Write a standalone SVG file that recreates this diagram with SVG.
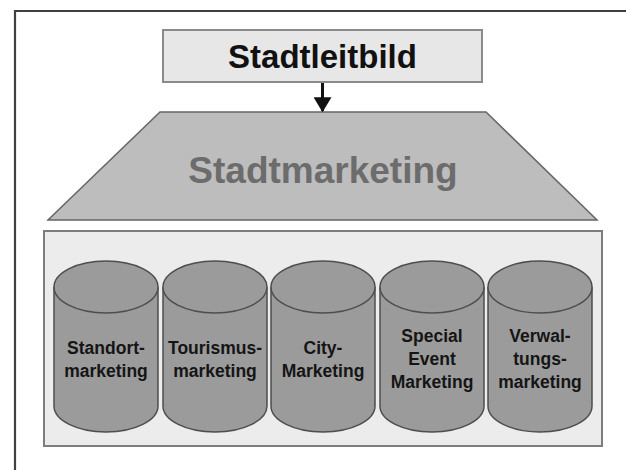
<svg xmlns="http://www.w3.org/2000/svg" width="626" height="470" viewBox="0 0 626 470">
<style>
.lbl{font-family:"Liberation Sans",Arial,sans-serif;font-weight:bold;text-anchor:middle}
.cyl{fill:#9b9b9b;stroke:#4e4e4e;stroke-width:1.5}
.ctext{font-size:17.5px;fill:#151515}
</style>
<defs>
<marker id="ah" markerWidth="5" markerHeight="6" refX="4.6" refY="3" orient="auto" markerUnits="strokeWidth" viewBox="0 0 5 6">
<path d="M0,0 L5,3 L0,6 Z" fill="#111"/>
</marker>
</defs>
<rect width="626" height="470" fill="#ffffff"/>
<path d="M15,470 V11 H626" fill="none" stroke="#404040" stroke-width="2.2"/>
<g id="stadtleitbild">
<rect x="163" y="30" width="319" height="52" fill="#e7e7e7" stroke="#8a8a8a" stroke-width="2"/>
<text class="lbl" x="322.5" y="68" font-size="33" fill="#111">Stadtleitbild</text>
</g>
<g id="stadtmarketing">
<polygon points="160,112 486,112 597,220 48,220" fill="#bdbdbd" stroke="#666" stroke-width="1.5"/>
<text class="lbl" x="323" y="183" font-size="37" fill="#6c6c6c">Stadtmarketing</text>
</g>
<g id="container">
<rect x="44" y="231" width="558" height="215" fill="#ececec" stroke="#7d7d7d" stroke-width="2"/>
</g>
<g id="standortmarketing">
<path class="cyl" d="M54,287 V406 A52,26 0 0 0 158,406 V287"/>
<ellipse class="cyl" cx="106" cy="287" rx="52" ry="26"/>
<text class="lbl ctext" x="106" y="354">Standort-</text>
<text class="lbl ctext" x="106" y="377">marketing</text>
</g>
<g id="tourismusmarketing">
<path class="cyl" d="M163,287 V406 A52,26 0 0 0 267,406 V287"/>
<ellipse class="cyl" cx="215" cy="287" rx="52" ry="26"/>
<text class="lbl ctext" x="215" y="354">Tourismus-</text>
<text class="lbl ctext" x="215" y="377">marketing</text>
</g>
<g id="citymarketing">
<path class="cyl" d="M271,287 V406 A52,26 0 0 0 375,406 V287"/>
<ellipse class="cyl" cx="323" cy="287" rx="52" ry="26"/>
<text class="lbl ctext" x="323" y="354">City-</text>
<text class="lbl ctext" x="323" y="377">Marketing</text>
</g>
<g id="specialeventmarketing">
<path class="cyl" d="M380,287 V406 A52,26 0 0 0 484,406 V287"/>
<ellipse class="cyl" cx="432" cy="287" rx="52" ry="26"/>
<text class="lbl ctext" x="432" y="342">Special</text>
<text class="lbl ctext" x="432" y="365">Event</text>
<text class="lbl ctext" x="432" y="388">Marketing</text>
</g>
<g id="verwaltungsmarketing">
<path class="cyl" d="M488,287 V406 A52,26 0 0 0 592,406 V287"/>
<ellipse class="cyl" cx="540" cy="287" rx="52" ry="26"/>
<text class="lbl ctext" x="540" y="342">Verwal-</text>
<text class="lbl ctext" x="540" y="365">tungs-</text>
<text class="lbl ctext" x="540" y="388">marketing</text>
</g>
<g id="connectors">
<line x1="322.5" y1="83" x2="322.5" y2="111" stroke="#111" stroke-width="3" marker-end="url(#ah)"/>
</g>
</svg>
